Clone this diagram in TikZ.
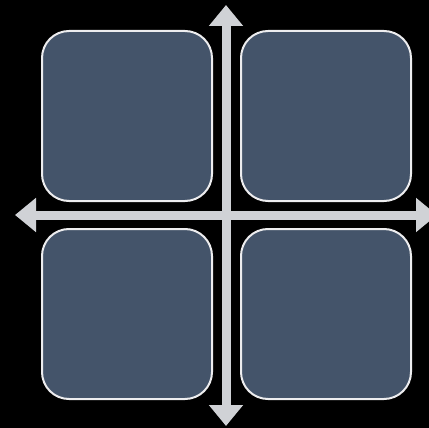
\documentclass[tikz,border=0pt]{standalone}
\usepackage[dvipsnames]{xcolor}
\usepackage{tikz}
\usetikzlibrary{arrows.meta,positioning}
\definecolor{SlateBlue}{HTML}{44546A}
\definecolor{PaleRim}{HTML}{EDEDEF}
\definecolor{AxisGray}{HTML}{D0D2D6}

\begin{document}
\begin{tikzpicture}[x=1pt,y=-1pt,
  quad/.style={draw=PaleRim,fill=SlateBlue,line width=2pt,rounded corners=27pt,minimum width=170pt,minimum height=170pt,inner sep=0pt,outer sep=0pt},
  axis/.style={{Triangle[length=21pt,width=33pt]}-{Triangle[length=21pt,width=33pt]},line width=9pt,draw=AxisGray,fill=AxisGray}
]
\fill[black] (0,0) rectangle (429,428);
\useasboundingbox (0,0) rectangle (429,428);
\node[quad] (TL) at (127,116) {};
\node[quad,right=29pt of TL] (TR) {};
\node[quad,below=28pt of TL] (BL) {};
\node[quad,right=29pt of BL] (BR) {};
\coordinate (N) at (226,5);
\coordinate (S) at (226,426);
\coordinate (W) at (15,215);
\coordinate (E) at (437,215);
\draw[axis] (S) -- (N);
\draw[axis] (W) -- (E);
\end{tikzpicture}
\end{document}
